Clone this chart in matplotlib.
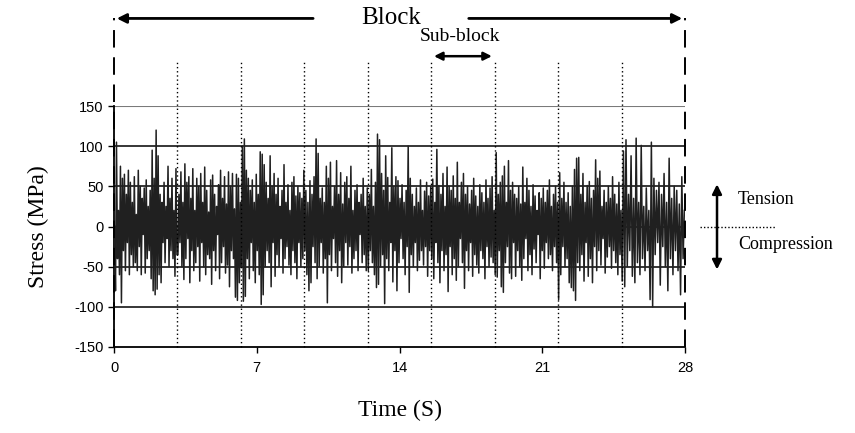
import numpy as np
import matplotlib
matplotlib.use("Agg")
import matplotlib.pyplot as plt

plt.rcParams["axes.unicode_minus"] = False

# Stress reversals (MPa) for each of the nine sub-blocks of one 28 s block
sub_block_1 = [0, -80, 105, -40, 20, -60, 75, -95, 60, -30, 65, -55, 40, -20, 70, -60, 55, -35, 30, -50,
               62, -45, 15, -55, 70, -25, 50, -60, 35, -10, 48, -58, 58, -40, 25, -30, 45, -65, 95, -80,
               60, -85, 120, -78, 88, -60, 40, -70, 30, -20, 55, -45, 25, -15, 75, -50, 35, -30, 60, -40,
               20, -62, 72, -35]
sub_block_2 = [-35, 40, -20, 68, -50, 30, -66, 78, -40, 55, -15, 62, -70, 35, -30, 72, -55, 20, -45, 60,
               -25, 50, -68, 66, -20, 30, -50, 74, -60, 45, -35, 18, -40, 58, -72, 64, -30, 40, -55, 25,
               -10, 52, -65, 70, -45, 35, -25, 62, -58, 28, -48, 68, -75, 50, -30, 66, -40, 22, -88, 65,
               -92, 60, -70, 30]
sub_block_3 = [-50, 100, -93, 109, -87, 70, -40, 60, -65, 45, -20, 58, -55, 30, -70, 65, -30, 40, -60, 93,
               -97, 90, -85, 77, -50, 55, -30, 35, -45, 88, -75, 50, -20, 66, -62, 40, -35, 60, -50, 25,
               -15, 45, -58, 77, -40, 30, -25, 52, -48, 20, -60, 55, -30, 62, -45, 38, -65, 50, -20, 42,
               -50, 35, -40, 70]
sub_block_4 = [-30, 45, -60, 30, -80, 57, -70, 40, -25, 62, -45, 109, -65, 91, -50, 35, -20, 48, -58, 30,
               -40, 75, -95, 60, -35, 80, -55, 25, -15, 50, -45, 82, -62, 40, -30, 67, -70, 28, -50, 55,
               -20, 62, -48, 35, -25, 75, -58, 20, -40, 45, -30, 52, -55, 30, -10, 40, -45, 60, -35, 25,
               -55, 48]
sub_block_5 = [-55, 40, -30, 71, -45, 25, -60, 55, -76, 115, -72, 108, -50, 66, -35, 45, -96, 88, -40, 61,
               -55, 30, -20, 98, -69, 50, -30, 62, -80, 57, -45, 35, -15, 52, -40, 30, -60, 45, -25, 100,
               -82, 60, -35, 40, -50, 25, -20, 48, -55, 30, -42, 58, -30, 20, -48, 44, -25, 55, -62, 38,
               -30, 50]
sub_block_6 = [-40, 59, -65, 30, -20, 96, -45, 51, -70, 40, -30, 66, -55, 25, -35, 74, -81, 50, -25, 45,
               -60, 63, -40, 35, -67, 80, -50, 30, -15, 55, -45, 66, -77, 40, -30, 50, -55, 28, -20, 45,
               -62, 60, -35, 38, -48, 25, -58, 52, -30, 42, -40, 30, -65, 58, -25, 35, -50, 48, -38, 62,
               -45, 20]
sub_block_7 = [-60, 92, -63, 40, -30, 55, -75, 63, -82, 75, -45, 30, -25, 82, -58, 45, -65, 55, -20, 40,
               -62, 35, -30, 50, -50, 28, -67, 74, -40, 30, -15, 60, -55, 45, -35, 25, -60, 52, -28, 38,
               -45, 20, -10, 42, -65, 35, -30, 48, -52, 30, -20, 45, -40, 58, -35, 25, -55, 40, -25, 50,
               -45, 30]
sub_block_8 = [-91, 67, -60, 35, -25, 55, -50, 30, -40, 42, -70, 25, -76, 50, -80, 71, -92, 85, -45, 86,
               -55, 40, -35, 66, -68, 30, -20, 51, -62, 56, -40, 35, -70, 45, -25, 83, -55, 60, -30, 69,
               -48, 25, -15, 45, -58, 30, -38, 50, -25, 35, -52, 62, -30, 40, -45, 28, -60, 55, -35, 20]
sub_block_9 = [-68, 94, -75, 108, -50, 40, -30, 88, -62, 35, -70, 110, -45, 30, -60, 101, -40, 25, -55, 48,
               -30, 20, -91, 105, -100, 60, -35, 45, -20, 55, -73, 40, -25, 66, -50, 30, -80, 85, -40, 35,
               -60, 50, -30, 45, -55, 28, -85, 62, -40, 20]

sub_blocks = [sub_block_1, sub_block_2, sub_block_3, sub_block_4, sub_block_5,
              sub_block_6, sub_block_7, sub_block_8, sub_block_9]

block_duration = 28.0
x_ticks = [0, 7, 14, 21, 28]
y_ticks = [-150, -100, -50, 0, 50, 100, 150]

serif = ["Liberation Serif", "DejaVu Serif"]
sans = ["Liberation Sans Narrow", "Liberation Sans", "DejaVu Sans"]

n_sub = len(sub_blocks)
sub_len = block_duration / n_sub
times, stress = [], []
for k, vals in enumerate(sub_blocks):
    t = k * sub_len + (np.arange(len(vals)) + 0.5) * sub_len / len(vals)
    times.extend(t)
    stress.extend(vals)
times = np.asarray(times)
stress = np.asarray(stress)

fig = plt.figure(figsize=(8.55, 4.33), dpi=100)
ax = fig.add_axes([114 / 855, 1 - 347 / 433, 571 / 855, 241 / 433])

ax.set_xlim(0, block_duration)
ax.set_ylim(-150, 150)

# horizontal grid
for y in y_ticks[1:-1]:
    ax.axhline(y, color="black", lw=1.1, zorder=1)
ax.axhline(150, color="#7a7a7a", lw=1.5, zorder=1)

ax.plot(times, stress, color="#202020", lw=1.1, zorder=3)

for s in ("top", "right"):
    ax.spines[s].set_visible(False)
ax.spines["bottom"].set_linewidth(1.3)
ax.spines["left"].set_linewidth(1.3)

ax.set_xticks(x_ticks)
ax.set_yticks(y_ticks)
ax.tick_params(axis="both", direction="out", length=4, width=1, labelsize=10.5)
for lab in ax.get_xticklabels() + ax.get_yticklabels():
    lab.set_family(sans)
ax.tick_params(axis="x", pad=6)

ax.set_xlabel("Time (S)", family=serif, fontsize=17, labelpad=18)
ax.set_ylabel("Stress (MPa)", family=serif, fontsize=17, labelpad=18)

# block boundaries
for xb in (0, block_duration):
    ax.plot([xb, xb], [-150, 259], color="black", lw=1.4,
            linestyle=(0, (9, 5)), clip_on=False, zorder=4)

# sub-block boundaries
for k in range(1, n_sub):
    xb = k * sub_len
    ax.plot([xb, xb], [-150, 206], color="black", lw=1.0,
            linestyle=(0, (1, 2)), clip_on=False, zorder=4)

# block arrow and label
arrow_kw = dict(arrowstyle="-|>", color="black", lw=2.0, mutation_scale=14)
ax.annotate("", xy=(0, 259), xytext=(9.9, 259), arrowprops=arrow_kw, annotation_clip=False)
ax.annotate("", xy=(block_duration, 259), xytext=(17.26, 259), arrowprops=arrow_kw,
            annotation_clip=False)
ax.text(13.6, 259, "Block", family=serif, fontsize=18, ha="center", va="center")

# sub-block arrow and label
ax.annotate("", xy=(5 * sub_len, 212), xytext=(6 * sub_len, 212),
            arrowprops=dict(arrowstyle="<|-|>", color="black", lw=1.8, mutation_scale=12),
            annotation_clip=False)
ax.text(16.97, 236, "Sub-block", family=serif, fontsize=14, ha="center", va="center")

# tension / compression indicator
ax.annotate("", xy=(29.57, 56), xytext=(29.57, -57),
            arrowprops=dict(arrowstyle="<|-|>", color="black", lw=1.8, mutation_scale=14),
            annotation_clip=False)
ax.plot([28.75, 32.4], [0, 0], color="black", lw=1.0, linestyle=(0, (1, 1.5)), clip_on=False)
ax.text(30.6, 34, "Tension", family=serif, fontsize=13, ha="left", va="center")
ax.text(30.6, -22, "Compression", family=serif, fontsize=13, ha="left", va="center")

fig.savefig("out.png", dpi=100)
